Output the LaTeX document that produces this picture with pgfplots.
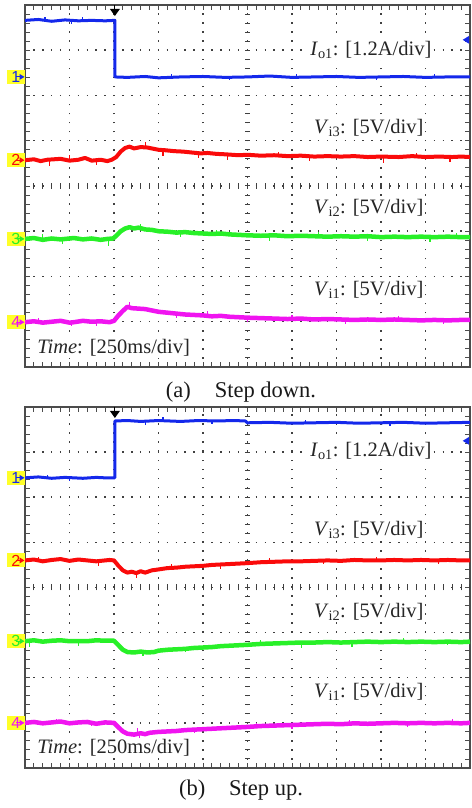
\documentclass[border=0pt]{standalone}
\usepackage{pgfplots}
\pgfplotsset{compat=1.18}
\usepackage{fontspec}
\setmainfont{Liberation Serif}
\newfontfamily\chfont{Liberation Sans}
\definecolor{trblue}{RGB}{20,40,235}
\definecolor{trred}{RGB}{250,10,10}
\definecolor{trgreen}{RGB}{40,240,40}
\definecolor{trmag}{RGB}{240,20,240}
\definecolor{chyel}{RGB}{255,255,40}
\tikzset{lab/.style={fill=white, inner sep=1.5pt, anchor=east, font=\fontsize{20.5}{24}\selectfont, text=black!85}}
\pgfplotsset{osc/.style={
  scale only axis, width=445pt, xmin=0, xmax=10, ymin=0, ymax=8,
  xtick={0,...,10}, ytick={0,...,8}, minor x tick num=4, minor y tick num=4,
  xticklabels={}, yticklabels={},
  tick align=inside, major tick length=5pt, minor tick length=5pt,
  tick style={black!70, line width=0.9pt},
  grid=major,
  x grid style={black!75, line width=1.5pt, dash pattern=on 1.5pt off 7.55pt, dash phase=0.75pt},
  y grid style={black!75, line width=1.5pt, dash pattern=on 1.5pt off 7.4pt, dash phase=0.75pt},
  axis line style={black!70, line width=1.2pt},
  clip=false, anchor=south west,
  every axis plot/.append style={line join=round},
  spk/.style={line width=1.2pt, unbounded coords=jump},
}}
\newcommand{\chmark}[3]{%
  \node[fill=chyel, inner sep=0pt, anchor=east, minimum width=18pt, minimum height=14pt, font=\chfont\fontsize{16}{16}\selectfont, text=#2] at (axis cs:0,#3) {#1\hspace{7pt}};
  \fill[#2] (axis cs:0,#3) ++(-0.5pt,0) -- ++(-5pt,3pt) -- ++(0,-6pt) -- cycle;
  \draw[#2, line width=1pt] (axis cs:0,#3) ++(-5pt,0) -- ++(-4pt,0);
}
\newcommand{\centerticks}{%
  \pgfplotsinvokeforeach{0.2,0.4,...,9.9}{\draw[black!75, line width=1pt] (axis cs:##1,4) ++(0,-3pt) -- ++(0,6pt);}
  \pgfplotsinvokeforeach{0.2,0.4,...,7.9}{\draw[black!75, line width=1pt] (axis cs:5,##1) ++(-2.5pt,0) -- ++(5pt,0);}
}
\begin{document}
\begin{tikzpicture}
\path[use as bounding box] (0,0) rectangle (471pt,808pt);
% ---------------- (a) step down ----------------
\begin{axis}[osc, at={(25pt,441pt)}, height=362pt]
\centerticks
\addplot[trblue, line width=3pt] coordinates {(0,7.66) (0.3,7.68) (0.6,7.64) (0.9,7.67) (1.2,7.65) (1.5,7.66) (1.8,7.65) (2.02,7.66) (2.02,6.41) (2.3,6.40) (2.7,6.42) (3.0,6.39) (3.5,6.41) (4.0,6.42) (4.5,6.40) (5.0,6.41) (5.5,6.43) (6.0,6.40) (6.5,6.41) (7.0,6.42) (7.5,6.40) (8.0,6.41) (8.5,6.42) (9.0,6.40) (9.5,6.41) (10,6.41)};
\addplot[trblue, spk] coordinates {(0.45,7.66) (0.45,7.74) (0.45,nan) (1.05,7.66) (1.05,7.58) (1.05,nan) (1.3,7.66) (1.3,7.73) (1.3,nan) (3.3,6.41) (3.3,6.48) (3.3,nan) (4.6,6.41) (4.6,6.34) (4.6,nan) (6.1,6.41) (6.1,6.48) (6.1,nan) (7.9,6.41) (7.9,6.35) (7.9,nan) (9.2,6.41) (9.2,6.48)};
\addplot[trred, line width=4pt] coordinates {(0,4.57) (0.2,4.59) (0.35,4.55) (0.5,4.58) (0.8,4.60) (1.0,4.56) (1.2,4.58) (1.35,4.62) (1.5,4.56) (1.7,4.58) (1.85,4.55) (1.95,4.58) (2.05,4.64) (2.15,4.76) (2.25,4.84) (2.35,4.87) (2.45,4.83) (2.6,4.86) (2.75,4.85) (2.9,4.82) (3.0,4.80) (3.15,4.79) (3.35,4.77) (3.55,4.76) (3.75,4.74) (3.95,4.72) (4.1,4.73) (4.3,4.71) (4.5,4.70) (4.8,4.68) (5.0,4.69) (5.3,4.67) (5.6,4.68) (5.9,4.66) (6.2,4.67) (6.5,4.65) (6.8,4.66) (7.1,4.65) (7.4,4.66) (7.7,4.64) (8.0,4.65) (8.4,4.64) (8.7,4.66) (9.0,4.64) (9.3,4.65) (9.6,4.64) (9.8,4.65) (10,4.64)};
\addplot[trred, spk] coordinates {(0.55,4.57) (0.55,4.45) (0.55,nan) (1.0,4.57) (1.0,4.68) (1.0,nan) (1.6,4.57) (1.6,4.47) (1.6,nan) (2.7,4.85) (2.7,4.98) (2.7,nan) (3.1,4.79) (3.1,4.67) (3.1,nan) (3.9,4.72) (3.9,4.62) (3.9,nan) (4.55,4.70) (4.55,4.58) (4.55,nan) (5.7,4.67) (5.7,4.76) (5.7,nan) (6.4,4.66) (6.4,4.56) (6.4,nan) (8.05,4.65) (8.05,4.50) (8.05,nan) (8.8,4.65) (8.8,4.74) (8.8,nan) (9.55,4.64) (9.55,4.52)};
\addplot[trgreen, line width=4.5pt] coordinates {(0,2.83) (0.2,2.85) (0.4,2.81) (0.6,2.84) (0.8,2.82) (0.9,2.83) (1.1,2.85) (1.3,2.82) (1.5,2.84) (1.7,2.81) (1.85,2.83) (1.98,2.84) (2.05,2.90) (2.15,3.00) (2.25,3.06) (2.35,3.09) (2.45,3.06) (2.55,3.08) (2.7,3.04) (2.85,3.03) (3.0,3.00) (3.2,2.99) (3.4,2.97) (3.6,2.98) (3.8,2.96) (4.0,2.95) (4.2,2.94) (4.4,2.95) (4.6,2.93) (4.8,2.92) (5.0,2.91) (5.3,2.90) (5.6,2.91) (5.9,2.89) (6.2,2.90) (6.5,2.89) (6.8,2.88) (7.1,2.89) (7.4,2.88) (7.7,2.89) (8.0,2.87) (8.3,2.88) (8.6,2.87) (8.9,2.88) (9.2,2.87) (9.5,2.88) (9.8,2.87) (10,2.87)};
\addplot[trgreen, spk] coordinates {(0.4,2.82) (0.4,2.93) (0.4,nan) (0.85,2.83) (0.85,2.72) (0.85,nan) (1.87,2.83) (1.87,2.68) (1.87,nan) (2.6,3.07) (2.6,3.17) (2.6,nan) (3.5,2.97) (3.5,2.87) (3.5,nan) (4.3,2.94) (4.3,3.03) (4.3,nan) (5.5,2.90) (5.5,2.78) (5.5,nan) (6.6,2.89) (6.6,2.98) (6.6,nan) (7.7,2.88) (7.7,2.79) (7.7,nan) (9.1,2.87) (9.1,2.77) (9.1,nan) (9.7,2.87) (9.7,2.96)};
\addplot[trmag, line width=4.5pt] coordinates {(0,0.99) (0.2,1.01) (0.4,0.98) (0.6,1.00) (0.8,1.02) (1.0,0.98) (1.1,0.99) (1.3,1.02) (1.5,1.00) (1.7,1.01) (1.9,0.99) (2.0,1.02) (2.1,1.14) (2.2,1.24) (2.3,1.33) (2.4,1.30) (2.55,1.29) (2.7,1.28) (2.85,1.25) (3.0,1.22) (3.2,1.20) (3.4,1.18) (3.6,1.16) (3.8,1.15) (4.0,1.14) (4.2,1.12) (4.4,1.13) (4.6,1.11) (4.8,1.10) (5.0,1.09) (5.3,1.08) (5.6,1.07) (5.9,1.06) (6.2,1.07) (6.5,1.05) (6.8,1.06) (7.1,1.05) (7.4,1.04) (7.7,1.05) (8.0,1.04) (8.3,1.05) (8.6,1.04) (8.9,1.03) (9.2,1.04) (9.5,1.03) (9.8,1.04) (10,1.04)};
\addplot[trmag, spk] coordinates {(0.3,1.0) (0.3,1.09) (0.3,nan) (1.05,0.99) (1.05,0.90) (1.05,nan) (1.6,1.0) (1.6,0.91) (1.6,nan) (2.35,1.32) (2.35,1.43) (2.35,nan) (3.4,1.18) (3.4,1.08) (3.4,nan) (4.1,1.13) (4.1,1.23) (4.1,nan) (5.0,1.09) (5.0,0.99) (5.0,nan) (6.0,1.06) (6.0,1.14) (6.0,nan) (7.2,1.05) (7.2,0.96) (7.2,nan) (8.4,1.04) (8.4,1.13) (8.4,nan) (9.4,1.03) (9.4,0.95)};
\chmark{1}{trblue}{6.41}
\chmark{2}{trred}{4.57}
\chmark{3}{trgreen}{2.83}
\chmark{4}{trmag}{0.99}
\fill[black] (axis cs:2.02,8) ++(-5pt,-4pt) -- ++(10pt,0) -- ++(-5pt,-7pt) -- cycle;
\draw[black, line width=1pt] (axis cs:2.02,8) -- ++(0,-4pt);
\fill[trblue] (axis cs:10,7.23) ++(-0.8pt,4pt) -- ++(0,-8pt) -- ++(-6.5pt,4pt) -- cycle;
\node[lab] at (axis cs:9.17,7.0) {\textit{I}\textsubscript{o1}: [1.2A/div]};
\node[lab] at (axis cs:8.99,5.28) {\textit{V}\textsubscript{i3}: [5V/div]};
\node[lab] at (axis cs:8.99,3.51) {\textit{V}\textsubscript{i2}: [5V/div]};
\node[lab] at (axis cs:8.99,1.70) {\textit{V}\textsubscript{i1}: [5V/div]};
\node[lab, anchor=west] at (axis cs:0.24,0.42) {\textit{Time}: [250ms/div]};
\end{axis}
\node[font=\fontsize{22.5}{26}\selectfont, text=black!90] at (241pt,416pt) {(a)\hspace{24pt}Step down.};
% ---------------- (b) step up ----------------
\begin{axis}[osc, at={(25pt,40pt)}, height=361pt]
\centerticks
\addplot[trblue, line width=3pt] coordinates {(0,6.43) (0.3,6.45) (0.6,6.42) (0.9,6.44) (1.3,6.42) (1.6,6.44) (1.8,6.43) (2.02,6.43) (2.02,7.69) (2.3,7.70) (2.6,7.68) (3.0,7.70) (3.5,7.68) (3.9,7.70) (4.3,7.69) (4.7,7.70) (4.95,7.69) (5.0,7.65) (5.5,7.66) (6.0,7.64) (6.5,7.65) (7.0,7.66) (7.5,7.64) (8.0,7.65) (8.5,7.66) (9.0,7.64) (9.5,7.65) (10,7.66)};
\addplot[trblue, spk] coordinates {(0.5,6.43) (0.5,6.5) (0.5,nan) (1.0,6.43) (1.0,6.36) (1.0,nan) (2.7,7.69) (2.7,7.60) (2.7,nan) (3.1,7.69) (3.1,7.77) (3.1,nan) (4.2,7.69) (4.2,7.62) (4.2,nan) (6.3,7.65) (6.3,7.72) (6.3,nan) (8.2,7.65) (8.2,7.58)};
\addplot[trred, line width=4pt] coordinates {(0,4.60) (0.2,4.62) (0.4,4.58) (0.6,4.61) (0.8,4.63) (1.0,4.59) (1.2,4.62) (1.4,4.60) (1.6,4.58) (1.9,4.61) (2.0,4.60) (2.1,4.48) (2.2,4.38) (2.3,4.33) (2.4,4.35) (2.5,4.32) (2.6,4.36) (2.7,4.33) (2.85,4.38) (3.0,4.40) (3.2,4.43) (3.4,4.44) (3.6,4.46) (3.8,4.47) (4.0,4.48) (4.2,4.50) (4.4,4.51) (4.6,4.52) (4.8,4.53) (5.0,4.54) (5.3,4.56) (5.6,4.57) (5.9,4.58) (6.2,4.58) (6.5,4.59) (6.8,4.60) (7.1,4.59) (7.4,4.61) (7.7,4.60) (8.0,4.60) (8.3,4.61) (8.6,4.60) (8.9,4.61) (9.2,4.60) (9.5,4.61) (9.8,4.60) (10,4.60)};
\addplot[trred, spk] coordinates {(0.3,4.60) (0.3,4.68) (0.3,nan) (1.65,4.59) (1.65,4.48) (1.65,nan) (2.5,4.32) (2.5,4.22) (2.5,nan) (3.3,4.43) (3.3,4.52) (3.3,nan) (4.4,4.51) (4.4,4.41) (4.4,nan) (5.5,4.57) (5.5,4.65) (5.5,nan) (6.7,4.60) (6.7,4.51) (6.7,nan) (7.9,4.60) (7.9,4.68) (7.9,nan) (9.3,4.60) (9.3,4.52)};
\addplot[trgreen, line width=4.5pt] coordinates {(0,2.81) (0.2,2.83) (0.4,2.80) (0.6,2.82) (0.8,2.83) (1.0,2.81) (1.4,2.81) (1.6,2.83) (1.8,2.82) (2.0,2.82) (2.1,2.72) (2.2,2.62) (2.3,2.57) (2.45,2.56) (2.6,2.58) (2.75,2.56) (2.9,2.57) (3.0,2.60) (3.2,2.62) (3.4,2.63) (3.6,2.64) (3.8,2.66) (4.0,2.67) (4.2,2.68) (4.4,2.70) (4.6,2.71) (4.8,2.72) (5.0,2.73) (5.3,2.75) (5.6,2.76) (5.9,2.77) (6.2,2.78) (6.5,2.78) (6.8,2.79) (7.1,2.78) (7.4,2.79) (7.7,2.80) (8.0,2.79) (8.3,2.80) (8.6,2.79) (8.9,2.80) (9.2,2.79) (9.5,2.80) (9.8,2.79) (10,2.80)};
\addplot[trgreen, spk] coordinates {(0.1,2.82) (0.1,2.68) (0.1,nan) (1.2,2.82) (1.2,2.70) (1.2,nan) (2.65,2.57) (2.65,2.49) (2.65,nan) (3.6,2.64) (3.6,2.56) (3.6,nan) (5.3,2.75) (5.3,2.84) (5.3,nan) (6.22,2.78) (6.22,2.67) (6.22,nan) (7.35,2.79) (7.35,2.68) (7.35,nan) (8.5,2.79) (8.5,2.88) (8.5,nan) (9.5,2.80) (9.5,2.72)};
\addplot[trmag, line width=4.5pt] coordinates {(0,1.00) (0.2,1.02) (0.4,0.99) (0.6,1.01) (0.8,1.03) (1.0,0.99) (1.2,1.01) (1.4,1.02) (1.6,0.98) (1.8,1.01) (2.0,1.00) (2.1,0.90) (2.2,0.81) (2.3,0.76) (2.45,0.74) (2.6,0.77) (2.7,0.75) (2.8,0.78) (3.0,0.80) (3.2,0.81) (3.4,0.82) (3.6,0.84) (3.8,0.85) (4.0,0.86) (4.2,0.87) (4.4,0.88) (4.6,0.89) (4.8,0.90) (5.0,0.91) (5.3,0.93) (5.6,0.94) (5.9,0.95) (6.2,0.96) (6.5,0.97) (6.8,0.98) (7.1,0.97) (7.4,0.99) (7.7,0.98) (8.0,0.99) (8.3,1.00) (8.6,0.99) (8.9,1.00) (9.2,0.99) (9.5,1.00) (9.8,0.99) (10,1.00)};
\addplot[trmag, spk] coordinates {(0.7,1.01) (0.7,1.09) (0.7,nan) (1.5,1.0) (1.5,0.92) (1.5,nan) (2.57,0.76) (2.57,0.64) (2.57,nan) (2.52,0.76) (2.52,0.88) (2.52,nan) (3.8,0.85) (3.8,0.77) (3.8,nan) (5.2,0.92) (5.2,1.0) (5.2,nan) (6.0,0.95) (6.0,0.86) (6.0,nan) (7.3,0.98) (7.3,1.07) (7.3,nan) (8.6,0.99) (8.6,0.91) (8.6,nan) (9.6,1.0) (9.6,1.08)};
\chmark{1}{trblue}{6.43}
\chmark{2}{trred}{4.60}
\chmark{3}{trgreen}{2.81}
\chmark{4}{trmag}{1.00}
\fill[black] (axis cs:2.02,8) ++(-5pt,-4pt) -- ++(10pt,0) -- ++(-5pt,-7pt) -- cycle;
\draw[black, line width=1pt] (axis cs:2.02,8) -- ++(0,-4pt);
\fill[trblue] (axis cs:10,7.25) ++(-0.8pt,4pt) -- ++(0,-8pt) -- ++(-6.5pt,4pt) -- cycle;
\node[lab] at (axis cs:9.17,7.02) {\textit{I}\textsubscript{o1}: [1.2A/div]};
\node[lab] at (axis cs:8.99,5.27) {\textit{V}\textsubscript{i3}: [5V/div]};
\node[lab] at (axis cs:8.99,3.46) {\textit{V}\textsubscript{i2}: [5V/div]};
\node[lab] at (axis cs:8.99,1.68) {\textit{V}\textsubscript{i1}: [5V/div]};
\node[lab, anchor=west] at (axis cs:0.24,0.44) {\textit{Time}: [250ms/div]};
\end{axis}
\node[font=\fontsize{22.5}{26}\selectfont, text=black!90] at (241pt,18pt) {(b)\hspace{24pt}Step up.};
\end{tikzpicture}
\end{document}
